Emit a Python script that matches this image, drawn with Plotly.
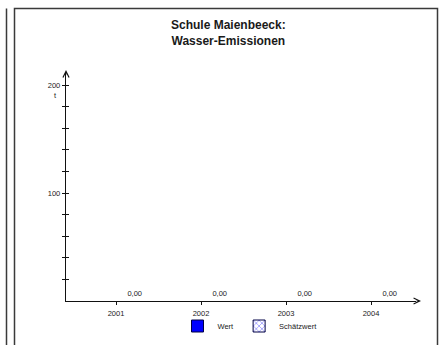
import plotly.graph_objects as go

years = ["2001", "2002", "2003", "2004"]
wert = [0, 0, 0, 0]
schaetzwert = [0, 0, 0, 0]
value_labels = ["0,00", "0,00", "0,00", "0,00"]
y_tickvals = [20, 40, 60, 80, 100, 120, 140, 160, 180, 200]
y_ticktext = ["", "", "", "", "100", "", "", "", "", "200"]

W, H = 444, 345
FONT = "Liberation Sans, Arial, sans-serif"
TXT = "#1a1a1a"


def px(x):
    return x / W


def py(y):
    return 1 - y / H


fig = go.Figure()
# data bars (zero height, no outline so nothing is drawn on the baseline)
fig.add_trace(go.Bar(
    x=years, y=wert, name="Wert", offsetgroup="w", showlegend=False,
    marker=dict(color="#0000FF", line=dict(width=0)),
))
fig.add_trace(go.Bar(
    x=years, y=schaetzwert, name="Schätzwert", offsetgroup="s", showlegend=False,
    marker=dict(color="white", line=dict(width=0),
                pattern=dict(shape="x", fgcolor="#0000FF", size=5, solidity=0.3)),
    text=value_labels, textposition="outside", cliponaxis=False,
    textfont=dict(size=7.5, color=TXT, family=FONT),
))
# legend entries
fig.add_trace(go.Bar(
    x=years, y=[None] * len(years), name="Wert", offsetgroup="w",
    marker=dict(color="#0000FF", line=dict(color="#000044", width=1)),
))
fig.add_trace(go.Bar(
    x=years, y=[None] * len(years), name="Schätzwert", offsetgroup="s",
    marker=dict(color="white", line=dict(color="#000044", width=1),
                pattern=dict(shape="x", fgcolor="#0000FF", size=5, solidity=0.3)),
))
# helper for inner half of y ticks
fig.add_trace(go.Scatter(x=[], y=[], yaxis="y2", showlegend=False))

x_left, x_right = 66, 416
y_bottom, y_top = 301, 73
c0 = (x_left - 116) / 85
c1 = (x_right - 116) / 85
ymax = (y_bottom - y_top) / 1.08

fig.update_layout(
    width=W, height=H,
    margin=dict(l=0, r=0, t=0, b=0),
    paper_bgcolor="white", plot_bgcolor="white",
    font=dict(family=FONT, size=7.5, color=TXT),
    barmode="group", bargap=0.12, bargroupgap=0,
    showlegend=True,
    legend=dict(orientation="h", x=px(250), xanchor="center", y=py(326), yanchor="middle",
                font=dict(size=7.5, family=FONT, color=TXT), itemwidth=30,
                bgcolor="rgba(0,0,0,0)", tracegroupgap=0),
    xaxis=dict(domain=[px(x_left), px(x_right)], range=[c0, c1], type="category",
               showgrid=False, zeroline=False, showline=True, linecolor="#111", linewidth=1.2,
               ticks="outside", ticklen=3, tickcolor="#111", tickwidth=1,
               ticklabelstandoff=2,
               tickfont=dict(size=7.5, family=FONT, color=TXT),
               anchor="y"),
    yaxis=dict(domain=[py(y_bottom), py(y_top)], range=[0, ymax],
               showgrid=False, zeroline=False, showline=True, linecolor="#111", linewidth=1.2,
               ticks="outside", ticklen=3, tickcolor="#111", tickwidth=1,
               tickvals=y_tickvals, ticktext=y_ticktext,
               tickfont=dict(size=7.5, family=FONT, color=TXT),
               anchor="x"),
    yaxis2=dict(domain=[py(y_bottom), py(y_top)], range=[0, ymax], overlaying="y",
                showgrid=False, zeroline=False, showline=False,
                ticks="inside", ticklen=3, tickcolor="#111", tickwidth=1,
                tickvals=y_tickvals, showticklabels=False, anchor="x", side="left"),
)

# title
fig.add_annotation(xref="paper", yref="paper", x=px(228), y=py(33), xanchor="center", yanchor="middle",
                   text="<b>Schule Maienbeeck:<br>Wasser-Emissionen</b>", showarrow=False,
                   font=dict(size=12, family=FONT, color=TXT))
# unit
fig.add_annotation(xref="paper", yref="paper", x=px(59), y=py(95), xanchor="right", yanchor="middle",
                   text="t", showarrow=False, font=dict(size=7.5, family=FONT, color=TXT))
# axis arrows
fig.add_annotation(xref="paper", yref="paper", x=px(x_left), y=py(70), ax=0, ay=6, text="",
                   showarrow=True, arrowhead=5, arrowsize=1, arrowwidth=1.2, arrowcolor="#111")
fig.add_annotation(xref="paper", yref="paper", x=px(421), y=py(y_bottom), ax=-6, ay=0, text="",
                   showarrow=True, arrowhead=5, arrowsize=1, arrowwidth=1.2, arrowcolor="#111")

# panel frames
fig.add_shape(type="rect", xref="paper", yref="paper", x0=px(14.5), x1=px(437.5), y0=py(360), y1=py(8.5),
              line=dict(color="#3a3a3a", width=1.5), layer="below")
fig.add_shape(type="line", xref="paper", yref="paper", x0=px(6.5), x1=px(6.5), y0=py(360), y1=py(8.5),
              line=dict(color="#3a3a3a", width=1.5), layer="below")

fig.write_html("out.html", config={"displayModeBar": False, "staticPlot": True},
               post_script="document.body.style.margin='0';document.body.style.overflow='hidden';")
